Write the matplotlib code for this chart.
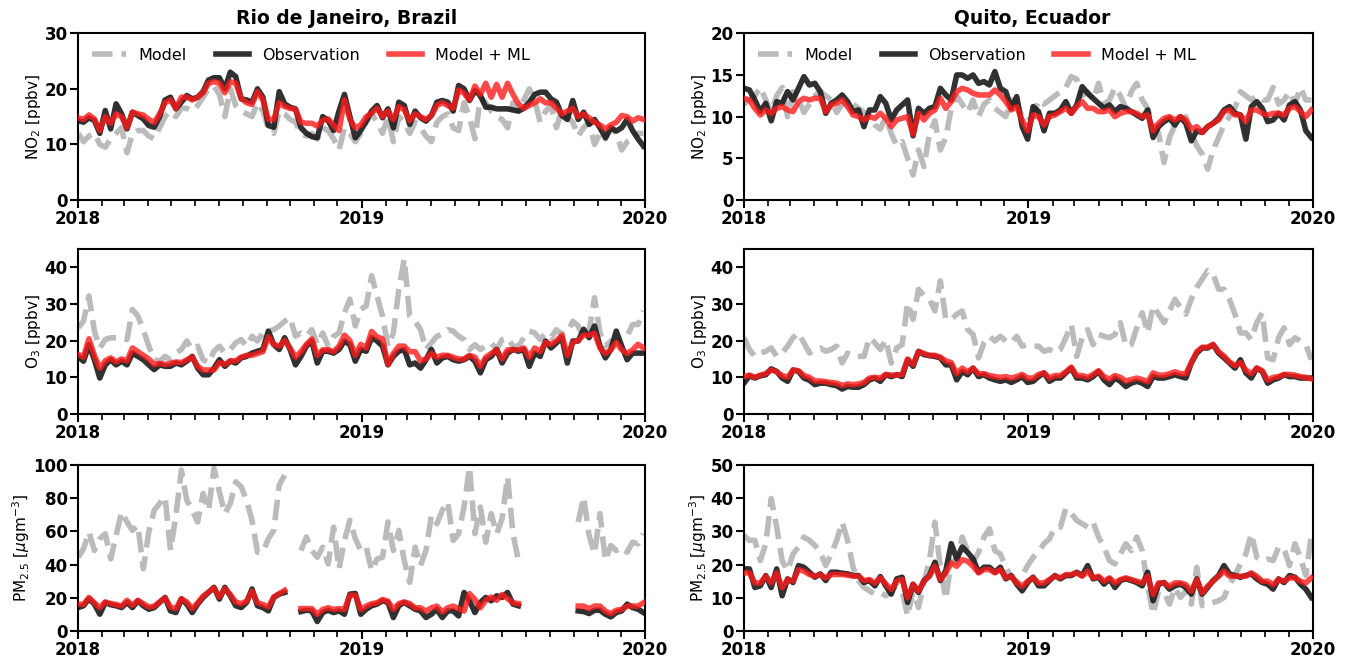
import numpy as np
import pandas as pd
import matplotlib
matplotlib.use("Agg")
import matplotlib.pyplot as plt
import matplotlib.dates as mdates

nan = np.nan

# weekly values, first week starts 2018-01-01
start = "2018-01-01"

# ---- Rio de Janeiro ----
rio_no2_model = [12, 10.5, 11.5, 12, 10, 9.5, 11, 12, 13, 8.5, 12, 12.5, 12.5,
                 11.5, 11, 13, 15, 16, 15, 16.5, 16.5, 16, 17, 18.5, 20, 20.5,
                 19, 15, 20, 17, 16, 15.5, 15, 17.5, 16, 13, 12, 16, 15.5,
                 14.5, 14, 12, 11.5, 12, 11, 13, 12.5, 11, 9, 13, 12, 10.5,
                 12, 14, 15.5, 14, 12, 15, 10.5, 15, 14, 12, 14, 13, 11.5,
                 10.5, 14, 15, 15.5, 13, 12.5, 17.5, 15, 11, 18.5, 17.5, 16, 15,
                 14.5, 13, 17.5, 16, 18, 20, 18, 14, 16, 17, 13, 16.5, 15,
                 14, 11.5, 13, 14, 10, 12, 11, 13, 12, 9, 10.5, 11, 12,
                 12]
rio_no2_obs = [14.3, 14, 14.8, 14.3, 12, 16.1, 12.8, 17.3, 15.5, 12.8, 15.8, 15.2, 14.6,
               13.4, 13.1, 15, 18, 18.5, 16.4, 17.6, 18.8, 18.2, 18.5, 19.5, 21.6, 22,
               22, 20, 23, 22.2, 18.2, 18, 17.6, 20, 18.5, 13.4, 13.1, 19.5, 17.3,
               16.7, 16.4, 13, 12, 11.4, 11.2, 15, 14.3, 12.5, 16, 19, 15, 11.2,
               12.5, 14.2, 16, 17, 14.8, 16.4, 13, 17.6, 17, 13.6, 16, 14.8, 14.2,
               15.2, 17.6, 17.9, 17.6, 16, 20.6, 20, 17.9, 19.7, 18.8, 16.7, 16.7, 16.4,
               16.4, 16.4, 16.2, 16, 16.5, 17.6, 19, 19.4, 19.4, 18.2, 17.6, 15.2, 14.5,
               17.9, 14.5, 15.8, 13.6, 14.5, 13, 11.2, 13, 12.4, 13, 14.5, 12.5, 11,
               9.7]
rio_no2_ml = [14.8, 14.5, 15.3, 14.6, 12.5, 15, 13.8, 15.5, 15, 13, 15.8, 15.5, 15.3,
              14.5, 14, 15.5, 17.5, 18, 16.5, 18.5, 18.5, 18, 18.5, 19.3, 21, 21.3,
              21, 19.3, 21.3, 21, 18.3, 17.5, 17.2, 19.5, 18, 14.5, 14.5, 17.5, 16.8,
              16.5, 16.3, 14, 13.8, 13.8, 13.3, 14.3, 14.6, 13.5, 12.5, 18, 14.5, 13,
              13.5, 15, 15.6, 16.5, 15, 16, 14.5, 16.8, 16.2, 14.3, 15.5, 15, 14.5,
              15.2, 17, 17.5, 17, 16.5, 19.8, 19.2, 18, 20.5, 19, 21, 18.5, 20.8,
              18.5, 21, 19, 17.3, 16.5, 17, 17.5, 18.2, 17.5, 17.5, 16.5, 15.5, 16,
              16.5, 15, 15.5, 14.8, 14, 13.5, 12.8, 13.5, 14, 15.2, 15, 14.2, 14.8,
              14.5]

rio_o3_model = [23.5, 25.3, 32.2, 22.6, 18, 20.3, 20.8, 20.8, 20.8, 20.3, 28.5, 26.7, 23,
                18.5, 14.8, 14.4, 15.7, 14.8, 16.6, 17.6, 19.9, 17.6, 18.5, 14.8, 13.9,
                17.1, 18.5, 16.6, 17.6, 19.4, 20.3, 18.5, 21.2, 19.9, 22.1, 22.6, 23, 24,
                25.3, 26.3, 21.2, 22.1, 21.2, 23, 18.9, 22.1,
                18.5, 21.2, 22.1, 27.6, 31.3, 24, 28.5, 29.5, 37.7, 32.2, 26.7, 18.5, 22.1,
                34, 42.3, 26.7, 25.3, 23, 17.6, 19.4, 21.2, 21.7, 23, 22.6, 21.2,
                20.3, 17.6, 18.9, 17.6, 18.5, 19.4, 17.6, 20.3, 20.8, 18.5, 18.5, 20.8,
                22.6, 22.1, 20.3, 22.1, 20.8, 23, 21.7, 22.1, 25.3, 24, 20.8, 22.6, 31.7,
                22.1, 18.5, 19.9, 19.4, 20.3, 21.2, 24.4, 24.4, 28.1]
rio_o3_obs = [15.7, 14.4, 18.9, 14.8, 9.8, 13.4, 14.8, 13.4, 14.4, 13.4, 16.6, 15.7, 14.8,
              13.4, 12.1, 13.4, 13, 13, 13.9, 13.4, 14.4, 15.7, 12.5, 10.7, 10.7, 12.5,
              14.8, 13, 14.4, 13.9, 15.3, 15.7, 16.6, 17.1, 17.6, 22.6, 18.9, 17.6, 20.8,
              17.6, 13.4, 15.7, 18.5, 19.9, 13.9, 17.1, 17.1, 16.6, 17.6, 19.9, 18.9, 14.4,
              17.6, 17.1, 20.8, 19.9, 18.5, 13.4, 15.7, 17.1, 17.6, 13.4, 13.9, 12.5, 14.8,
              17.6, 13.9, 15.3, 15.7, 14.8, 14.4, 14.8, 15.7, 14.4, 11.2, 14.8, 15.7, 17.6,
              13.9, 16.6, 17.6, 17.1, 17.6, 13, 16.6, 15.7, 19.9, 18, 19.4, 20.8, 13.9, 19.9,
              19.9, 23.1, 20.8, 24, 18.5, 15.3, 17.6, 22.6, 18.5, 14.8, 16.6, 16.6, 16.6]
rio_o3_ml = [16.3, 15.5, 20.5, 16, 12.5, 14.5, 15.3, 14.2, 15, 14.5, 18, 17, 16,
             15, 13.5, 13.8, 13.5, 13.8, 14.2, 14, 14.8, 15.5, 13, 12, 12, 12,
             14, 13.5, 14.5, 14.5, 15.5, 16, 16, 16.5, 17, 21, 19, 18.5, 20,
             18, 15.5, 17, 19, 20.5, 16, 17.5, 17.5, 17, 18.5, 21.5, 20, 16,
             19, 18, 22.5, 21, 20.5, 13.5, 16.5, 18.5, 18.5, 17, 17, 14.5, 15,
             16.5, 15.5, 16, 16, 15.5, 15, 15, 16, 15.5, 13, 15.5, 16.5, 17.5,
             15, 17.5, 17.5, 17.5, 18, 15.5, 18, 17, 19.5, 19, 20, 21.5, 16, 19.5,
             20, 21.5, 21.5, 22, 18, 16.5, 17.5, 19.5, 17.5, 16.5, 17.5, 19, 18]

# PM2.5 in Rio has missing weeks (nan)
rio_pm_model = [44.4, 49.5, 59.6, 48.5, 55.6, 58.6, 43.4, 57.6, 71.7, 65.7, 60.6, 63.6, 37.4,
                59.6, 72.7, 76.8, 80.8, 48.5, 69.7, 97, 78.8, 72.7, 65.7, 82.8, 72.7, 98,
                83.8, 70.7, 76.8, 89.9, 86.9, 78.8, 66.7, 47.5, 47.5, 55.6, 60.6, 87.9, 93.9,
                nan, nan,
                48.5, 56.6, 48.5, 44.4, 50.5, 40.4, 62.6, 37.4, 54.5, 66.7, 55.6, 48.5, 50.5,
                36.4, 43.4, 44.4, 65.7, 48.5, 60.6, 42.4, 29.3, 50.5, 39.4, 48.5, 69.7, 64.6,
                72.7, 77.8, 54.5, 58.6, 74.7, 99, 58.6, 74.7, 53.5, 70.7, 58.6, 67.7, 92.9,
                58.6, 42.4,
                nan, nan, nan, nan, nan, nan, nan, nan, nan, nan,
                65.7, 80.8, 57.6, 46.5, 70.7, 42.4, 51.5, 48.5, 50.5, 47.5, 53.5, 52.5, 58.6]
rio_pm_obs = [14.1, 15.2, 19.4, 16.2, 10.1, 17.2, 15.8, 15.2, 14.1, 17.2, 14.1, 18.2, 15.2,
              13.1, 14.1, 17.2, 20.2, 12.1, 11.1, 19.2, 16.2, 11.1, 16.2, 20.2, 23.2, 26.3,
              19.2, 26.3, 21.2, 15.2, 14.1, 17.2, 25.3, 15.2, 14.1, 12.1, 20.2, 22.2, 23.2,
              nan, nan,
              11.7, 12.5, 12.1, 5.7, 11.1, 12.5, 11.1, 12.1, 10.1, 22.2, 22.6, 10.1, 13.1,
              15.2, 16.2, 18.2, 17.2, 8.1, 15.2, 17.2, 15.2, 13.1, 12.1, 8.1, 10.1, 13.1,
              8.1, 12.1, 12.1, 9.1, 23.2, 18.2, 11.1, 17.2, 20.2, 18.2, 21.2, 20.2, 23.2,
              16.2, 15.2,
              nan, nan, nan, nan, nan, nan, nan, nan, nan, nan,
              12.1, 11.7, 10.5, 12.5, 12.5, 10.1, 8.5, 11.1, 12.1, 16.2, 14.1, 13.1, 11.1]
rio_pm_ml = [16.2, 16, 20.2, 17, 14.1, 17.5, 16.5, 16, 15, 18.5, 15.5, 18.5, 16.5,
             14.5, 15, 17.5, 20, 14.5, 13.5, 19.5, 17.5, 13.5, 17, 21, 23.5, 26,
             20.5, 25.5, 22, 17.5, 16.5, 18, 24, 17, 16, 14.5, 20.5, 22.5, 24.5,
             nan, nan,
             13.5, 13.5, 13.5, 10, 13, 14, 13, 13.5, 13, 21.5, 21.5, 13, 15,
             16.5, 17, 19, 18, 13, 16.5, 17.5, 16.5, 14, 14, 12, 14, 15,
             11.5, 14, 15, 13.5, 12, 22.5, 19, 14, 18.5, 20.5, 18.5, 22, 19.5,
             17, 16.5,
             nan, nan, nan, nan, nan, nan, nan, nan, nan, nan,
             15, 15, 13.5, 15, 15, 12, 10.5, 12.5, 13, 15, 15, 15, 17]

# ---- Quito ----
quito_no2_model = [11.5, 12, 12.5, 13.5, 12, 10.5, 12.5, 13.5, 10, 13, 12, 10.5, 11.5,
                   12.5, 13, 12.5, 12, 10.5, 11.5, 12, 11.5, 11, 10.5, 10, 9, 8.5,
                   10, 8, 6.5, 7, 5, 3, 6, 4, 8, 9.5, 6, 7.5, 11,
                   12.5, 11.5, 10.5, 12, 10, 11.5, 12, 11, 10.5, 10, 12, 11.5, 10,
                   9.5, 10, 12, 11.5, 12, 12.5, 13, 13.5, 14.8, 14.5, 12.5, 13, 12,
                   14, 11.5, 12, 13.5, 12.5, 11, 13, 14, 12, 11, 9, 8, 4.5,
                   7.5, 9, 9, 10, 8, 6.5, 5.5, 3.7, 6, 7.5, 9, 10, 11,
                   13, 12.5, 12, 12.5, 12, 12, 13.5, 11.5, 12, 13, 11.5, 13.5, 12,
                   12]
quito_no2_obs = [13.4, 13.2, 12, 10.6, 11.6, 9.5, 11.8, 11.6, 13, 12, 13.4, 14.8, 13.8,
                 14, 13, 10.4, 11.6, 12, 12.6, 11.8, 10.6, 10.8, 8.8, 10.8, 10.8, 12.4,
                 11.6, 9.6, 10.8, 11.4, 12, 7.7, 11, 10.4, 11, 11.2, 13.4, 12.6, 12,
                 15, 15, 14.6, 15, 14, 14.2, 13.8, 15.4, 13.4, 13, 11, 12.4, 8.8,
                 7.3, 11.2, 10.6, 8.3, 10.4, 10.4, 10.8, 11.8, 10.4, 11.4, 13.6, 12.8, 12.2,
                 11.6, 11, 11.4, 10.6, 11.2, 11, 10.6, 10.2, 9.8, 10.8, 7.5, 8.8,
                 9.4, 9.8, 9, 10, 9.2, 7.1, 8.3, 8.1, 8.8, 9.2, 9.8, 10.8, 11.2,
                 10.4, 10.2, 7.3, 11.2, 11.8, 11, 9.4, 9.6, 10.4, 9.6, 11.4, 11.8, 10.8,
                 8.3, 7.5]
quito_no2_ml = [12.2, 12, 11, 10.2, 10.8, 10.4, 11, 11.2, 10.8, 10.6, 11.8, 12.2, 12,
                12.2, 12.2, 10.6, 11.4, 11.6, 12, 11.2, 10.2, 10, 9.6, 10, 9.8, 10.4,
                9.8, 8.8, 9.6, 9.8, 10, 7.9, 10.4, 9.6, 10.4, 10.8, 12.2, 11, 11.8,
                13, 13.4, 13.2, 12.8, 12.6, 12.6, 12.6, 13.2, 12.6, 11.8, 10.8, 11.2, 9.6,
                8.3, 10.2, 10, 9, 10, 10.2, 10.6, 11, 10.4, 11.2, 11.8, 11, 11,
                10.6, 10.6, 10.8, 10, 10.4, 10.6, 10.6, 10.4, 10, 10.2, 8.3, 9.2,
                9.8, 10, 9.6, 10, 9.6, 8.5, 8.8, 8.1, 8.8, 9.2, 9.6, 10.6, 10.8,
                10.2, 10.2, 9.4, 10.8, 10.8, 10.4, 10.2, 10.4, 10.4, 10.2, 11, 11.2, 10.6,
                10, 10.8]

quito_o3_model = [20.8, 17.6, 15.7, 16.6, 17.1, 18, 15.7, 16.6, 18.5, 20.8, 22.1, 19.4, 16.6,
                  17.6, 18, 17.1, 17.6, 18.5, 13.9, 16.6, 15.7, 15.7, 15.7, 20.8, 19.4, 17.6,
                  20.3, 13.9, 18, 18.9, 30.3, 25.8, 34, 32.2, 31.3, 28.1, 36.3, 25.8,
                  25.8, 27.2, 28.1, 23, 21.7, 15.3, 19.4, 21.2, 19.9, 21.2, 19.9, 19.4, 21.2,
                  18.5, 18.9, 18.5, 18.5, 17.1, 17.6, 16.6, 17.6, 20.8, 24.4, 15.7, 20.8, 23,
                  18.9, 21.7, 21.2, 20.8, 21.7, 24.9, 18.5, 18.9, 23.5, 27.6, 22.1, 29.5, 27.2,
                  24.9, 28.1, 31.3, 29, 27.2, 31.3, 34.5, 36.8, 39.1, 38.2, 34, 34, 31.3,
                  27.2, 22.1, 22.1, 20.3, 24.9, 27.6, 15.3, 14.8, 20.8, 23.5, 18.9, 20.8, 19.9,
                  18.9, 14.8]
quito_o3_obs = [8.4, 10.4, 9.8, 10.4, 10.7, 12.3, 11.6, 9.8, 8.9, 12, 11.6, 9.8, 9.2,
                8, 8.4, 8.4, 8, 7.7, 6.8, 7.5, 7.3, 7.3, 8, 9.3, 9.8, 8.9,
                10.7, 10.2, 10.7, 10.2, 14.8, 13, 17.1, 16.2, 15.9, 15.7, 15.3, 13.4,
                13.4, 9.3, 11.6, 10.7, 12.5, 10.2, 10.7, 9.8, 9.3, 8.9, 9.3, 8.6, 9.3,
                10.2, 8.6, 8.9, 10.2, 11.2, 8.9, 9.8, 9.8, 11.2, 12.5, 9.8, 9.8, 9.3,
                10.2, 11.6, 9.3, 8, 9.8, 8.9, 7.5, 8.4, 8.9, 8.4, 7.5, 10.2, 9.8,
                9.8, 10.2, 10.7, 10.2, 9.8, 13.9, 16.6, 18, 18, 18.9, 16.6, 15.3, 13.9,
                12.5, 14.8, 11.2, 9.8, 12.5, 11.6, 8.4, 9.3, 9.8, 10.7, 10.2, 10.2, 9.8,
                9.8, 9.8]
quito_o3_ml = [10.2, 10.6, 10, 10.6, 11, 12, 11.5, 10.5, 10, 12, 11.8, 10.5, 10,
               9, 9, 8.8, 8.6, 8.4, 7.8, 8.2, 8, 8.2, 8.6, 9.8, 10, 9.8,
               10.8, 10.6, 10.6, 10.8, 15, 13.5, 17, 16.5, 16, 16, 15.5, 14.5,
               14, 11, 12.5, 11.5, 12.5, 11, 11, 10.5, 10.2, 10, 10.2, 9.8, 10.2,
               10.8, 9.8, 9.8, 10.8, 11.2, 9.8, 10.5, 10.5, 11.5, 12.8, 10.5, 10.5, 10,
               10.8, 11.8, 10.2, 9.5, 10.5, 10, 9, 9.4, 9.8, 9.4, 8.8, 11.2, 10.6,
               10.6, 11, 11.5, 11, 11, 14, 17, 18.2, 18.2, 19, 17, 15.8, 14.2,
               13.2, 14, 12, 11, 12.5, 11.8, 9.2, 10, 10.2, 10.8, 10.8, 10.6, 10.2,
               10, 9.6]

quito_pm_model = [28.8, 27.3, 27.3, 21.2, 26.3, 39.9, 31.3, 21.2, 18.2, 23.2, 25.3, 28.3, 27.3,
                  25.8, 23.7, 19.7, 23.2, 27.3, 32.8, 27.3, 19.2, 15.2, 13.1, 12.1, 11.1, 11.6,
                  10.6, 12.1, 13.6, 12.1, 4.5, 12.1, 7.1, 14.6, 21.2, 32.8, 19.2, 9.6,
                  21.2, 20.7, 28.3, 24.2, 20.7, 23.7, 28.3, 30.8, 24.2, 23.2, 19.2, 16.2, 14.6,
                  16.7, 19.7, 22.2, 23.7, 26.3, 27.8, 31.3, 31.3, 36.9, 35.4, 33.3, 32.3, 31.3,
                  32.8, 28.3, 25.3, 21.2, 20.2, 23.2, 26.3, 24.2, 28.3, 24.2, 13.6, 5.1, 12.1,
                  11.6, 8.1, 13.1, 10.1, 12.1, 8.1, 19.2, 7.6, 8.1, 8.6, 9.1, 10.1, 14.1,
                  16.7, 20.2, 23.2, 29.3, 22.2, 21.2, 21.7, 21.2, 25.3, 24.8, 19.7, 26.3, 22.2,
                  16.7, 28.8]
quito_pm_obs = [18.7, 18.7, 13.1, 13.6, 16.7, 13.1, 18.7, 10.6, 15.7, 14.6, 19.7, 19.2, 17.7,
                16.2, 17.2, 15.2, 17.7, 17.7, 17.4, 17.2, 16.7, 16.7, 14.6, 15.2, 13.6, 16.4,
                13.6, 11.1, 15.7, 16.2, 8.6, 14.1, 11.6, 15.2, 16.7, 20.7, 15.2, 18.2,
                26.3, 21.7, 25.3, 23.7, 21.7, 17.7, 19.2, 19.2, 17.7, 19.2, 15.7, 16.7, 14.1,
                12.1, 14.6, 16.2, 13.6, 13.6, 15.2, 16.7, 15.7, 16.7, 16.7, 17.7, 16.7, 19.7,
                15.7, 16.2, 14.1, 15.7, 13.1, 15.2, 15.7, 15.2, 14.6, 13.6, 17.7, 9.1, 14.1,
                14.6, 12.6, 13.6, 14.1, 13.1, 11.1, 15.7, 11.1, 13.1, 15.2, 16.7, 19.7, 17.2,
                16.7, 16.2, 16.7, 17.2, 15.7, 14.6, 14.1, 12.6, 15.7, 14.6, 16.7, 16.2, 14.1,
                12.6, 10.1]
quito_pm_ml = [17.5, 17.5, 14.5, 14.5, 16.5, 14.5, 17.5, 13, 15.5, 15, 18.5, 18, 17,
               16.5, 17, 16, 17, 17, 17, 16.8, 16.5, 16.5, 15.2, 15.5, 14.5, 16,
               14.2, 12.5, 15, 15.5, 10, 14, 12, 15, 16.5, 19.5, 15.5, 17.5,
               20.5, 19.5, 21.5, 21, 19.5, 17.5, 18.5, 18.5, 17.5, 18.5, 16, 16.5, 14.5,
               13.5, 15, 16, 14.5, 14.5, 15.5, 16.5, 16, 17, 17, 17.5, 16.5, 18,
               16, 16.5, 15, 16, 14.5, 15.5, 16, 15.5, 15, 14.5, 16.5, 11, 14.5,
               14.5, 13.5, 14.5, 14.5, 14, 12, 15.5, 11.5, 13.5, 15, 16.5, 18, 16.5,
               16.5, 16.5, 16.5, 17.5, 16.5, 15, 15, 14, 15.5, 15, 16, 16, 15,
               14.5, 16]

titles = ["Rio de Janeiro, Brazil", "Quito, Ecuador"]
ylabels = [r"NO$_2$ [ppbv]", r"O$_3$ [ppbv]", r"PM$_{2.5}$ [$\mu$gm$^{-3}$]"]
panels = [
    [(rio_no2_model, rio_no2_obs, rio_no2_ml), (quito_no2_model, quito_no2_obs, quito_no2_ml)],
    [(rio_o3_model, rio_o3_obs, rio_o3_ml), (quito_o3_model, quito_o3_obs, quito_o3_ml)],
    [(rio_pm_model, rio_pm_obs, rio_pm_ml), (quito_pm_model, quito_pm_obs, quito_pm_ml)],
]
ylims = [[(0, 30, 10), (0, 20, 5)],
         [(0, 45, 10), (0, 45, 10)],
         [(0, 100, 20), (0, 50, 10)]]

fig = plt.figure(figsize=(13.46, 6.59), dpi=100)
lefts = [0.058, 0.5527]
widths = [0.4212, 0.4227]
bottoms = [0.6965, 0.3718, 0.0425]
heights = [0.253, 0.2504, 0.2519]
title_x = [0.473, 0.507]

for r in range(3):
    for c in range(2):
        ax = fig.add_axes([lefts[c], bottoms[r], widths[c], heights[r]])
        model, obs, ml = panels[r][c]
        x_m = pd.date_range(start, periods=len(model), freq="7D")
        x_o = pd.date_range(start, periods=len(obs), freq="7D")
        x_l = pd.date_range(start, periods=len(ml), freq="7D")
        ax.plot(x_m, model, color="#bbbbbb", lw=4, ls="--", label="Model", zorder=1)
        ax.plot(x_o, obs, color="#1a1a1a", lw=4, alpha=0.9, label="Observation", zorder=2)
        ax.plot(x_l, ml, color="#ff1a1a", lw=4, alpha=0.8, label="Model + ML", zorder=3)

        ax.set_xlim(pd.Timestamp("2018-01-01"), pd.Timestamp("2020-01-01"))
        lo, hi, step = ylims[r][c]
        ax.set_ylim(lo, hi)
        ax.set_yticks(np.arange(lo, hi + 0.1, step))
        ax.xaxis.set_major_locator(mdates.YearLocator())
        ax.xaxis.set_major_formatter(mdates.DateFormatter("%Y"))
        ax.xaxis.set_minor_locator(mdates.MonthLocator())
        ax.tick_params(which="major", labelsize=12, width=1.5, length=6, pad=1.5)
        ax.tick_params(which="minor", width=1.2, length=4)
        for lab in ax.get_xticklabels() + ax.get_yticklabels():
            lab.set_fontweight("bold")
        for sp in ax.spines.values():
            sp.set_linewidth(1.5)
        ax.set_ylabel(ylabels[r], fontsize=11, labelpad=1)

        if r == 0:
            ax.set_title(titles[c], fontsize=13.5, fontweight="bold", pad=7, x=title_x[c])
            ax.legend(loc="upper left", ncol=3, frameon=False, fontsize=11.5,
                      handlelength=2.1, columnspacing=1.8)

fig.savefig("out.png", dpi=100)
